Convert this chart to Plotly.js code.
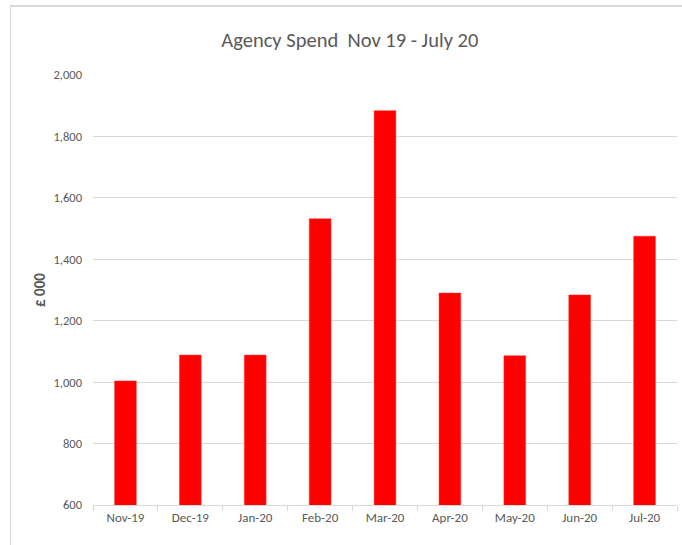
<!DOCTYPE html>
<html>
<head>
<meta charset="utf-8">
<script src="https://cdn.plot.ly/plotly-3.0.1.min.js"></script>
<style>
  html, body { margin: 0; padding: 0; background: #fff; }
  #wrap { position: relative; width: 682px; height: 545px; overflow: hidden; }
  #chart { position: absolute; left: 0; top: 0; width: 682px; height: 545px; }
  #frame { position: absolute; left: 10px; top: 5px; width: 680px; height: 550px;
           border-left: 1px solid #d9d9d9; border-top: 2px solid #d9d9d9; pointer-events: none; }
</style>
</head>
<body>
<div id="wrap">
  <div id="chart"></div>
  <div id="frame"></div>
</div>
<script>
const months = ["Nov-19", "Dec-19", "Jan-20", "Feb-20", "Mar-20", "Apr-20", "May-20", "Jun-20", "Jul-20"];
const spend = [1004, 1088, 1088, 1532, 1884, 1290, 1086, 1284, 1475];
const yTicks = [600, 800, 1000, 1200, 1400, 1600, 1800, 2000];

const font = "Carlito, 'Liberation Sans Narrow', 'Liberation Sans', Arial, sans-serif";

Plotly.newPlot("chart", [{
  type: "bar",
  x: months,
  y: spend,
  marker: { color: "#ff0000", line: { color: "#ff3030", width: 0.5 } },
  hoverinfo: "x+y"
}], {
  width: 682, height: 545,
  margin: { l: 93, r: 5, t: 75, b: 40 },
  paper_bgcolor: "rgba(0,0,0,0)",
  plot_bgcolor: "#ffffff",
  bargap: 0.665,
  showlegend: false,
  title: {
    text: "Agency Spend  Nov 19 - July 20",
    font: { family: font, size: 20.5, color: "#595959" },
    x: 0.513, xanchor: "center", y: 0.927, yanchor: "middle"
  },
  xaxis: {
    type: "category",
    showline: true, linecolor: "#d9d9d9", linewidth: 1,
    ticks: "outside", tickson: "boundaries", ticklen: 5, tickcolor: "#d9d9d9",
    tickfont: { family: font, size: 13, color: "#595959" },
    showgrid: false
  },
  yaxis: {
    range: [600, 2000],
    tickvals: yTicks,
    tickformat: ",d",
    showgrid: true, gridcolor: "#d9d9d9", gridwidth: 1,
    zeroline: false, showline: false, ticks: "",
    ticklabelstandoff: 10,
    tickfont: { family: font, size: 12.5, color: "#595959" },
    title: { text: "<b>£ 000</b>", font: { family: font, size: 15, color: "#595959" }, standoff: 4 }
  }
}, { displayModeBar: false, staticPlot: true });
</script>
</body>
</html>
